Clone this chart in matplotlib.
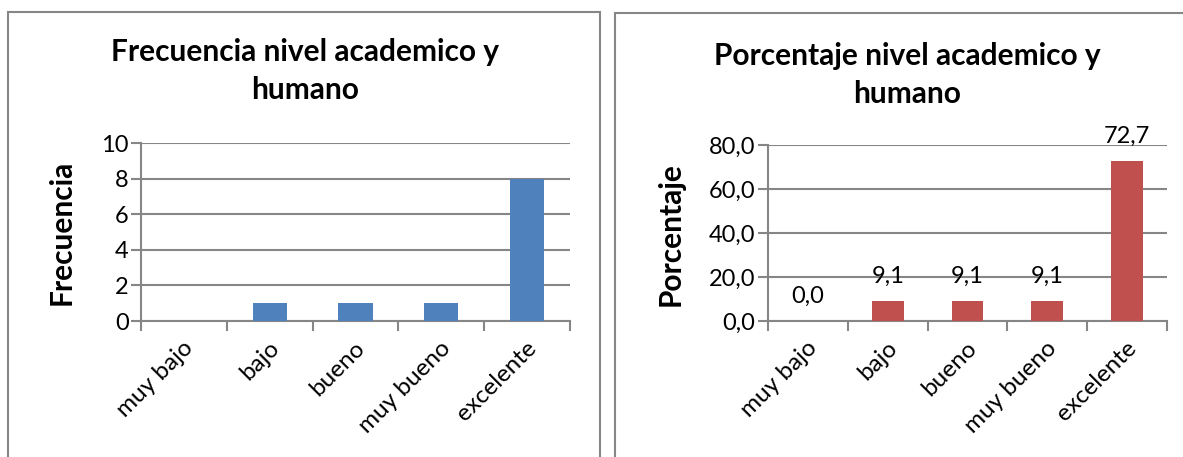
import matplotlib
matplotlib.use("Agg")
import matplotlib.pyplot as plt
from matplotlib.patches import Rectangle
from matplotlib.ticker import FuncFormatter
from matplotlib.transforms import ScaledTranslation

categorias = ["muy bajo", "bajo", "bueno", "muy bueno", "excelente"]
frecuencia = [0, 1, 1, 1, 8]
porcentaje = [0.0, 9.1, 9.1, 9.1, 72.7]

plt.rcParams["font.family"] = ["Lato", "DejaVu Sans"]
gris = "#868686"

fig = plt.figure(figsize=(11.83, 4.57), dpi=100)

# marcos de cada grafico
fig.patches.append(Rectangle((8 / 1183, -0.05), 592 / 1183, 1 - 12 / 457 + 0.05,
                             transform=fig.transFigure, fill=False, ec=gris, lw=1.5))
fig.patches.append(Rectangle((615 / 1183, -0.05), 600 / 1183, 1 - 13 / 457 + 0.05,
                             transform=fig.transFigure, fill=False, ec=gris, lw=1.5))


def estilo(ax, ymax, paso):
    x = range(len(categorias))
    ax.set_xlim(-0.5, len(categorias) - 0.5)
    ax.set_ylim(0, ymax)
    ax.set_yticks([i * paso for i in range(int(ymax / paso) + 1)])
    ax.set_xticks(list(x))
    ax.set_xticklabels(categorias, rotation=45, ha="right", va="center",
                       rotation_mode="anchor", fontsize=17.5)
    ax.set_xticks([i - 0.5 for i in range(len(categorias) + 1)], minor=True)
    ax.tick_params(axis="x", which="major", length=0, pad=17)
    ax.tick_params(axis="x", which="minor", length=7, width=1.5, color=gris, direction="out")
    ax.tick_params(axis="y", length=7, width=1.5, color=gris, direction="out", labelsize=17, pad=2)
    desplaza = ScaledTranslation(6 / 100, 0, fig.dpi_scale_trans)
    for t in ax.get_xticklabels():
        t.set_transform(t.get_transform() + desplaza)
    ax.yaxis.grid(True, color=gris, lw=1.5)
    ax.set_axisbelow(True)
    for s in ["top", "right"]:
        ax.spines[s].set_visible(False)
    for s in ["left", "bottom"]:
        ax.spines[s].set_color(gris)
        ax.spines[s].set_linewidth(1.5)


# grafico de frecuencia
ax1 = fig.add_axes([141 / 1183, 1 - 321 / 457, 429 / 1183, 178 / 457])
ax1.bar(range(len(categorias)), frecuencia, width=0.4, color="#4F81BD", zorder=3)
estilo(ax1, 10, 2)
fig.text(305 / 1183, 1 - 71 / 457, "Frecuencia nivel academico y\nhumano", ha="center", va="center",
         fontsize=21.5, fontweight="bold", linespacing=1.4)
fig.text(62 / 1183, 1 - 232 / 457, "Frecuencia", rotation=90, ha="center", va="center",
         fontsize=21.5, fontweight="bold")

# grafico de porcentaje
ax2 = fig.add_axes([768 / 1183, 1 - 321 / 457, 399 / 1183, 176 / 457])
barras = ax2.bar(range(len(categorias)), porcentaje, width=0.4, color="#C0504D", zorder=3)
estilo(ax2, 80, 20)
ax2.yaxis.set_major_formatter(FuncFormatter(lambda v, p: f"{v:.1f}".replace(".", ",")))
ax2.bar_label(barras, labels=[f"{v:.1f}".replace(".", ",") for v in porcentaje],
              padding=10, fontsize=17)
fig.text(907 / 1183, 1 - 75 / 457, "Porcentaje nivel academico y\nhumano", ha="center", va="center",
         fontsize=21.5, fontweight="bold", linespacing=1.4)
fig.text(671 / 1183, 1 - 234 / 457, "Porcentaje", rotation=90, ha="center", va="center",
         fontsize=21.5, fontweight="bold")

fig.savefig("out.png", dpi=100)
